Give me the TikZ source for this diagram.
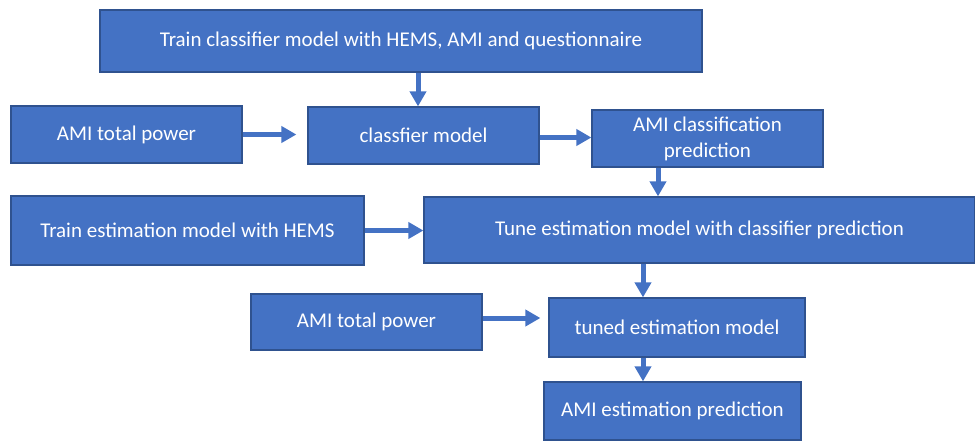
\documentclass[tikz,border=0pt]{standalone}
\usepackage{fontspec}
\setmainfont{Carlito}
\usetikzlibrary{arrows.meta}
\tikzset{>={Triangle[width=16pt,length=15pt]}}
\definecolor{BoxBlue}{RGB}{68,114,196}
\definecolor{BoxEdge}{RGB}{47,82,143}
\tikzset{
	box/.style={draw=BoxEdge,fill=BoxBlue,line width=1.2pt,text=white,inner sep=0pt,align=center,font=\fontsize{21}{26}\selectfont},
	arr/.style={->,draw=BoxBlue,line width=5pt}
}

\begin{document}
\begin{tikzpicture}[x=1pt,y=-1pt]
		\useasboundingbox (0,0) rectangle (975,440);

		% classifier part
		\node[box,minimum width=602pt,minimum height=62pt] (trainCls) at (401,41) {Train classifier model with HEMS, AMI and questionnaire};
		\node[box,minimum width=231pt,minimum height=57pt] (amiPow1) at (126.5,134.5) {AMI total power};
		\node[box,minimum width=231pt,minimum height=57pt] (clsModel) at (423.5,135.5) {classfier model};
		\node[box,minimum width=231pt,minimum height=57pt] (clsPred) at (707.5,138.5) {AMI classification\\prediction};

		% estimation part
		\node[box,minimum width=353pt,minimum height=69pt] (trainEst) at (187.5,230.5) {Train estimation model with HEMS};
		\node[box,minimum width=551pt,minimum height=66pt] (tuneEst) at (699.5,230) {Tune estimation model with classifier prediction};
		\node[box,minimum width=231pt,minimum height=56pt] (amiPow2) at (366.5,322) {AMI total power};
		\node[box,minimum width=256pt,minimum height=59pt] (tunedModel) at (677,327.5) {tuned estimation model};
		\node[box,minimum width=257pt,minimum height=58pt] (estPred) at (672.5,411) {AMI estimation prediction};

		% arrows
		\draw[arr] ([xshift=-5.5pt]clsModel.north |- trainCls.south) -- ([xshift=-5.5pt]clsModel.north);
		\draw[arr,shorten >=11pt] (amiPow1.east) -- (amiPow1.east -| clsModel.west);
		\draw[arr] ([yshift=-2pt]clsModel.east) -- ([yshift=-2pt]clsModel.east -| clsPred.west);
		\draw[arr] ([xshift=-49.5pt]clsPred.south) -- ([xshift=-49.5pt]clsPred.south |- tuneEst.north);
		\draw[arr] (trainEst.east) -- (trainEst.east -| tuneEst.west);
		\draw[arr] ([xshift=-34pt]tunedModel.north |- tuneEst.south) -- ([xshift=-34pt]tunedModel.north);
		\draw[arr,shorten >=8pt] ([yshift=4pt]amiPow2.east) -- ([yshift=4pt]amiPow2.east -| tunedModel.west);
		\draw[arr] ([xshift=-34pt]tunedModel.south) -- ([xshift=-34pt]tunedModel.south |- estPred.north);

	\end{tikzpicture}
\end{document}
